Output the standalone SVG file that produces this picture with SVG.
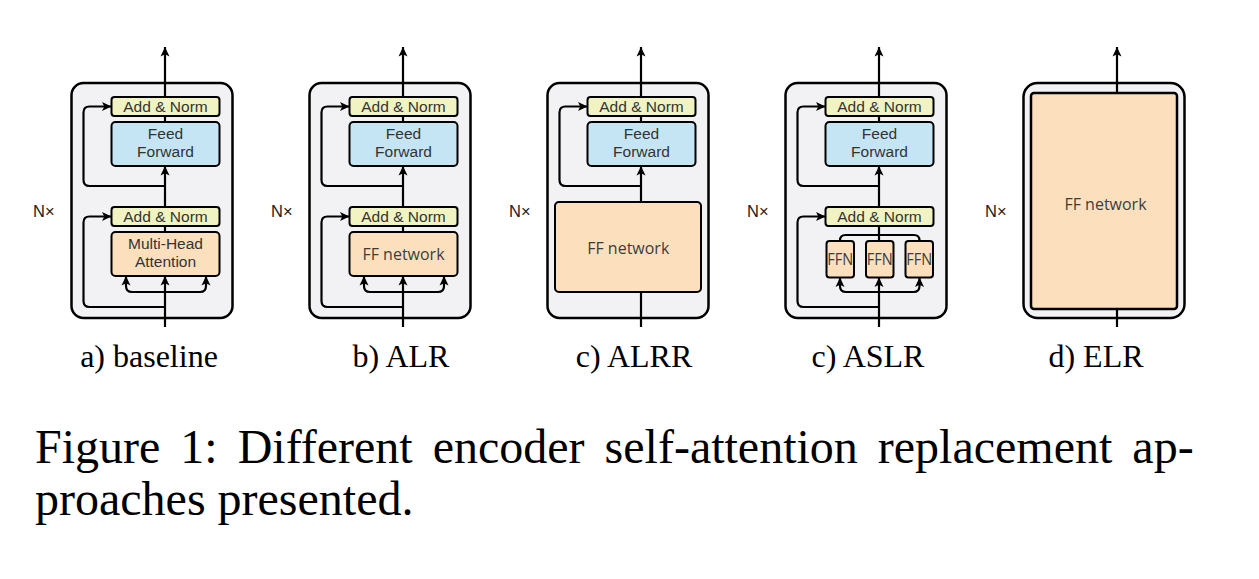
<svg xmlns="http://www.w3.org/2000/svg" width="1259" height="579" viewBox="0 0 1259 579">
<defs>
<marker id="ah" markerUnits="userSpaceOnUse" markerWidth="11" markerHeight="10" refX="9.5" refY="5" orient="auto">
<path d="M0,0.5 L9.5,5 L0,9.5 L2.3,5 Z" fill="#000"/>
</marker>
</defs>
<style>
.outer{fill:#f2f2f4;stroke:#000;stroke-width:2.5}
.an{fill:#f1f3c3;stroke:#000;stroke-width:2}
.ff{fill:#c6e5f4;stroke:#000;stroke-width:2}
.pe{fill:#fce0be;stroke:#000;stroke-width:2}
.ln{fill:none;stroke:#000;stroke-width:2.2}
.ar{fill:none;stroke:#000;stroke-width:2.2;marker-end:url(#ah)}
.h{font-family:"Liberation Sans",Arial,sans-serif;font-size:15.5px;fill:#333;text-anchor:middle}
.c{font-family:"Open Sans","Noto Sans",sans-serif;font-size:16px;fill:#3c3c3c;text-anchor:middle}
.ffn{font-family:"Open Sans","Noto Sans",sans-serif;font-size:16px;fill:#3c3c3c;text-anchor:middle}
.nx{font-family:"Liberation Sans",Arial,sans-serif;font-size:16.5px;fill:#222}
.cap{font-family:"Liberation Serif","Times New Roman",serif;font-size:32px;fill:#000;text-anchor:middle}
.fig{font-family:"Liberation Serif","Times New Roman",serif;font-size:48px;fill:#000}
</style>
<rect width="1259" height="579" fill="#fff"/>

<!-- Panel a: baseline -->
<g id="panel-a" transform="translate(71.5,0)">
<g id="a-block"><rect class="outer" x="0" y="83" width="161" height="235" rx="12"/><text class="nx" x="-38.5" y="217">N×</text></g>
<g id="a-addnorm2"><rect class="an" x="40" y="97" width="108" height="19" rx="3"/><text class="h" x="94" y="112">Add &amp; Norm</text></g>
<g id="a-ff"><rect class="ff" x="40" y="122" width="108" height="44" rx="4"/><text class="h" x="94" y="139">Feed</text><text class="h" x="94" y="157">Forward</text></g>
<g id="a-addnorm1"><rect class="an" x="40" y="207" width="108" height="19" rx="3"/><text class="h" x="94" y="222">Add &amp; Norm</text></g>
<g id="a-mha"><rect class="pe" x="40" y="232" width="108" height="44" rx="4"/><text class="h" x="94" y="249">Multi-Head</text><text class="h" x="94" y="267">Attention</text></g>
<g id="a-connectors">
<path class="ar" d="M93.5,97 V47"/>
<path class="ln" d="M93.5,116 V122"/>
<path class="ar" d="M93.5,207 V166"/>
<path class="ar" d="M93.5,186 H18 Q12,186 12,180 V112.5 Q12,106.5 18,106.5 H40"/>
<path class="ln" d="M93.5,226 V232"/>
<path class="ar" d="M93.5,327 V276"/>
<path class="ar" d="M93.5,292 H60.5 Q54.5,292 54.5,286 V276"/>
<path class="ar" d="M93.5,292 H128.5 Q134.5,292 134.5,286 V276"/>
<path class="ar" d="M93.5,307 H18 Q12,307 12,301 V222.5 Q12,216.5 18,216.5 H40"/>
</g>
</g>

<!-- Panel b: ALR -->
<g id="panel-b" transform="translate(309.5,0)">
<g id="b-block"><rect class="outer" x="0" y="83" width="161" height="235" rx="12"/><text class="nx" x="-38.5" y="217">N×</text></g>
<g id="b-addnorm2"><rect class="an" x="40" y="97" width="108" height="19" rx="3"/><text class="h" x="94" y="112">Add &amp; Norm</text></g>
<g id="b-ff"><rect class="ff" x="40" y="122" width="108" height="44" rx="4"/><text class="h" x="94" y="139">Feed</text><text class="h" x="94" y="157">Forward</text></g>
<g id="b-addnorm1"><rect class="an" x="40" y="207" width="108" height="19" rx="3"/><text class="h" x="94" y="222">Add &amp; Norm</text></g>
<g id="b-ffnet"><rect class="pe" x="40" y="232" width="108" height="44" rx="4"/><text class="c" x="94" y="260">FF network</text></g>
<g id="b-connectors">
<path class="ar" d="M93.5,97 V47"/>
<path class="ln" d="M93.5,116 V122"/>
<path class="ar" d="M93.5,207 V166"/>
<path class="ar" d="M93.5,186 H18 Q12,186 12,180 V112.5 Q12,106.5 18,106.5 H40"/>
<path class="ln" d="M93.5,226 V232"/>
<path class="ar" d="M93.5,327 V276"/>
<path class="ar" d="M93.5,292 H60.5 Q54.5,292 54.5,286 V276"/>
<path class="ar" d="M93.5,292 H128.5 Q134.5,292 134.5,286 V276"/>
<path class="ar" d="M93.5,307 H18 Q12,307 12,301 V222.5 Q12,216.5 18,216.5 H40"/>
</g>
</g>

<!-- Panel c: ALRR -->
<g id="panel-c" transform="translate(547.5,0)">
<g id="c-block"><rect class="outer" x="0" y="83" width="161" height="235" rx="12"/><text class="nx" x="-38.5" y="217">N×</text></g>
<g id="c-addnorm"><rect class="an" x="40" y="97" width="108" height="19" rx="3"/><text class="h" x="94" y="112">Add &amp; Norm</text></g>
<g id="c-ff"><rect class="ff" x="40" y="122" width="108" height="44" rx="4"/><text class="h" x="94" y="139">Feed</text><text class="h" x="94" y="157">Forward</text></g>
<g id="c-ffnet"><rect class="pe" x="7.5" y="202" width="146" height="90" rx="4"/><text class="c" x="80.75" y="254">FF network</text></g>
<g id="c-connectors">
<path class="ar" d="M93.5,97 V47"/>
<path class="ln" d="M93.5,116 V122"/>
<path class="ar" d="M93.5,202 V166"/>
<path class="ar" d="M93.5,186 H18 Q12,186 12,180 V112.5 Q12,106.5 18,106.5 H40"/>
<path class="ln" d="M93.5,327 V292"/>
</g>
</g>

<!-- Panel d: ASLR -->
<g id="panel-d" transform="translate(785.5,0)">
<g id="d-block"><rect class="outer" x="0" y="83" width="161" height="235" rx="12"/><text class="nx" x="-38.5" y="217">N×</text></g>
<g id="d-addnorm2"><rect class="an" x="40" y="97" width="108" height="19" rx="3"/><text class="h" x="94" y="112">Add &amp; Norm</text></g>
<g id="d-ff"><rect class="ff" x="40" y="122" width="108" height="44" rx="4"/><text class="h" x="94" y="139">Feed</text><text class="h" x="94" y="157">Forward</text></g>
<g id="d-addnorm1"><rect class="an" x="40" y="207" width="108" height="19" rx="3"/><text class="h" x="94" y="222">Add &amp; Norm</text></g>
<g id="d-ffn1"><rect class="pe" x="41" y="241" width="27.5" height="36.5" rx="3"/><text class="ffn" x="54.75" y="265" textLength="26" lengthAdjust="spacingAndGlyphs">FFN</text></g>
<g id="d-ffn2"><rect class="pe" x="80.5" y="241" width="27.5" height="36.5" rx="3"/><text class="ffn" x="94.25" y="265" textLength="26" lengthAdjust="spacingAndGlyphs">FFN</text></g>
<g id="d-ffn3"><rect class="pe" x="120" y="241" width="27.5" height="36.5" rx="3"/><text class="ffn" x="133.75" y="265" textLength="26" lengthAdjust="spacingAndGlyphs">FFN</text></g>
<g id="d-connectors">
<path class="ar" d="M93.5,97 V47"/>
<path class="ln" d="M93.5,116 V122"/>
<path class="ar" d="M93.5,207 V166"/>
<path class="ar" d="M93.5,186 H18 Q12,186 12,180 V112.5 Q12,106.5 18,106.5 H40"/>
<path class="ln" d="M93.5,226 V241"/>
<path class="ln" d="M54.5,241 V240.5 Q54.5,235 60,235 H128.5 Q134,235 134,240.5 V241"/>
<path class="ar" d="M93.5,327 V277.5"/>
<path class="ar" d="M93.5,292 H60.5 Q54.5,292 54.5,286 V277.5"/>
<path class="ar" d="M93.5,292 H128 Q134,292 134,286 V277.5"/>
<path class="ar" d="M93.5,307 H18 Q12,307 12,301 V222.5 Q12,216.5 18,216.5 H40"/>
</g>
</g>

<!-- Panel e: ELR -->
<g id="panel-e" transform="translate(1023.5,0)">
<g id="e-block"><rect class="outer" x="0" y="83" width="161" height="235" rx="14"/><text class="nx" x="-38.5" y="217">N×</text></g>
<g id="e-ffnet"><rect class="pe" style="stroke-width:2.5" x="7.5" y="93" width="146" height="216" rx="3"/><text class="c" x="82" y="210">FF network</text></g>
<g id="e-connectors">
<path class="ar" d="M93.5,93 V47"/>
<path class="ln" d="M93.5,327 V309"/>
</g>
</g>

<g id="captions">
<text class="cap" x="149" y="367">a) baseline</text>
<text class="cap" x="401" y="367">b) ALR</text>
<text class="cap" x="634" y="367">c) ALRR</text>
<text class="cap" x="868" y="367">c) ASLR</text>
<text class="cap" x="1096" y="367">d) ELR</text>
<text class="fig" x="35" y="463" word-spacing="8">Figure 1: Different encoder self-attention replacement ap-</text>
<text class="fig" x="35" y="515">proaches presented.</text>
</g>
</svg>
